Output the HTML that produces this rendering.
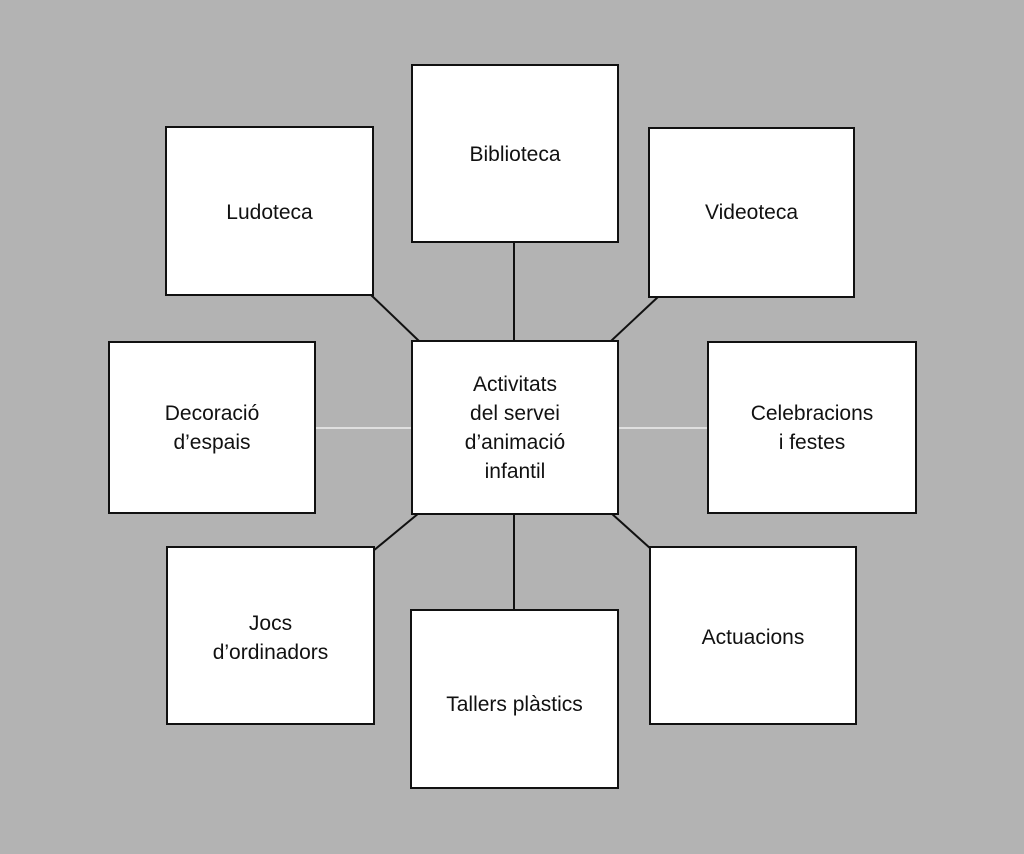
<!DOCTYPE html>
<html><head><meta charset="utf-8"><style>
html,body{margin:0;padding:0;}
body{width:1024px;height:854px;background:#b3b3b3;position:relative;overflow:hidden;font-family:"Liberation Sans",sans-serif;}
.b{position:absolute;background:#fff;border:2px solid #111;box-sizing:border-box;display:flex;align-items:center;justify-content:center;text-align:center;font-size:21px;line-height:29px;color:#111;}
svg{position:absolute;left:0;top:0;}
</style></head><body>
<svg width="1024" height="854">
<g stroke="#111" stroke-width="2">
<line x1="514" y1="242" x2="514" y2="341"/>
<line x1="370" y1="294" x2="419" y2="341"/>
<line x1="659" y1="296" x2="611" y2="341"/>
<line x1="419" y1="513" x2="373" y2="551"/>
<line x1="514" y1="513" x2="514" y2="610"/>
<line x1="611" y1="513" x2="651" y2="549"/>
</g>
<g stroke="#eee" stroke-width="1.5">
<line x1="314" y1="428" x2="412" y2="428"/>
<line x1="617" y1="428" x2="708" y2="428"/>
</g>
</svg>
<div class="b" style="left:411px;top:64px;width:208px;height:179px;align-items:flex-start;padding-top:74px">Biblioteca</div>
<div class="b" style="left:165px;top:126px;width:209px;height:170px;align-items:flex-start;padding-top:70px">Ludoteca</div>
<div class="b" style="left:648px;top:127px;width:207px;height:171px;align-items:flex-start;padding-top:69px">Videoteca</div>
<div class="b" style="left:108px;top:341px;width:208px;height:173px;padding-bottom:0px">Decoració<br>d’espais</div>
<div class="b" style="left:411px;top:340px;width:208px;height:175px">Activitats<br>del servei<br>d’animació<br>infantil</div>
<div class="b" style="left:707px;top:341px;width:210px;height:173px;padding-bottom:0px">Celebracions<br>i festes</div>
<div class="b" style="left:166px;top:546px;width:209px;height:179px;padding-bottom:0px;padding-top:4px">Jocs<br>d’ordinadors</div>
<div class="b" style="left:410px;top:609px;width:209px;height:180px;align-items:flex-start;padding-top:79px">Tallers plàstics</div>
<div class="b" style="left:649px;top:546px;width:208px;height:179px;padding-bottom:0px;padding-top:4px">Actuacions</div>
</body></html>
